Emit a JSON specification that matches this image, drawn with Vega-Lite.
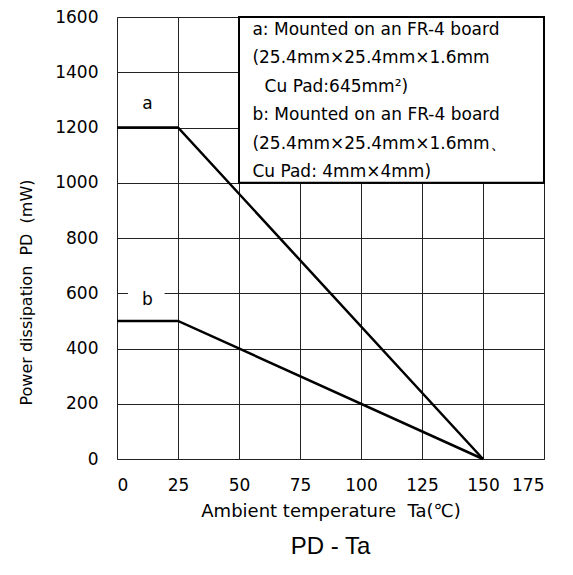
{
  "$schema": "https://vega.github.io/schema/vega-lite/v6.json",
  "width": 427,
  "height": 442,
  "autosize": "none",
  "padding": {"left": 117, "top": 17, "right": 29, "bottom": 116},
  "background": "white",
  "config": {
    "view": {"stroke": "#808080", "strokeWidth": 1},
    "font": "DejaVu Sans",
    "axis": {
      "grid": true,
      "gridColor": "#222222",
      "gridOpacity": 1,
      "gridWidth": 1,
      "ticks": false,
      "domain": false,
      "labelFont": "DejaVu Sans",
      "labelFontSize": 17,
      "labelColor": "#000000",
      "titleFont": "DejaVu Sans",
      "titleFontSize": 16,
      "titleFontWeight": "normal",
      "titleColor": "#000000"
    }
  },
  "title": {
    "text": "PD - Ta",
    "orient": "bottom",
    "font": "Liberation Sans",
    "fontSize": 24,
    "fontWeight": "normal",
    "color": "#000000",
    "offset": 15
  },
  "datasets": {
    "curves": [
      {"s": "a", "t": 0, "p": 1200},
      {"s": "a", "t": 25, "p": 1200},
      {"s": "a", "t": 150, "p": 0},
      {"s": "b", "t": 0, "p": 500},
      {"s": "b", "t": 25, "p": 500},
      {"s": "b", "t": 150, "p": 0}
    ],
    "labels": [
      {"s": "a", "t": 12.5, "p": 1285},
      {"s": "b", "t": 12.5, "p": 575}
    ],
    "box": [{"x1": 50, "x2": 175, "y1": 1000, "y2": 1600}],
    "gap": [{"x1": 4.5, "x2": 19.5, "y1": 560, "y2": 640}],
    "notes": [
      {"line": "a: Mounted on an FR-4 board", "t": 55.5, "p": 1553},
      {"line": "(25.4mm×25.4mm×1.6mm", "t": 55.5, "p": 1450},
      {"line": "Cu Pad:645mm²)", "t": 60.5, "p": 1347},
      {"line": "b: Mounted on an FR-4 board", "t": 55.5, "p": 1245},
      {"line": "(25.4mm×25.4mm×1.6mm、", "t": 55.5, "p": 1142},
      {"line": "Cu Pad: 4mm×4mm)", "t": 55.5, "p": 1039}
    ]
  },
  "layer": [
    {
      "data": {"name": "curves"},
      "mark": {"type": "line", "color": "#000000", "strokeWidth": 2.5},
      "encoding": {
        "x": {
          "field": "t", "type": "quantitative",
          "scale": {"domain": [0, 175], "nice": false, "zero": false},
          "axis": {"values": [0, 25, 50, 75, 100, 125, 150, 175], "format": "d", "labelPadding": 18, "title": "Ambient temperature\u00a0\u00a0Ta(℃)", "titleFontSize": 18, "titlePadding": 9}
        },
        "y": {
          "field": "p", "type": "quantitative",
          "scale": {"domain": [0, 1600], "nice": false},
          "axis": {"values": [0, 200, 400, 600, 800, 1000, 1200, 1400, 1600], "format": "d", "labelPadding": 19, "title": "Power dissipation\u00a0\u00a0PD\u00a0\u00a0(mW)", "titlePadding": 20, "titleY": 275}
        },
        "detail": {"field": "s"}
      }
    },
    {
      "data": {"name": "gap"},
      "mark": {"type": "rect", "fill": "white"},
      "encoding": {
        "x": {"field": "x1", "type": "quantitative"},
        "x2": {"field": "x2"},
        "y": {"field": "y1", "type": "quantitative"},
        "y2": {"field": "y2"}
      }
    },
    {
      "data": {"name": "box"},
      "mark": {"type": "rect", "fill": "white", "stroke": "#000000", "strokeWidth": 2},
      "encoding": {
        "x": {"field": "x1", "type": "quantitative"},
        "x2": {"field": "x2"},
        "y": {"field": "y1", "type": "quantitative"},
        "y2": {"field": "y2"}
      }
    },
    {
      "data": {"name": "labels"},
      "mark": {"type": "text", "fontSize": 17, "color": "#000000", "align": "center", "baseline": "middle"},
      "encoding": {
        "x": {"field": "t", "type": "quantitative"},
        "y": {"field": "p", "type": "quantitative"},
        "text": {"field": "s"}
      }
    },
    {
      "data": {"name": "notes"},
      "mark": {"type": "text", "fontSize": 17, "color": "#000000", "align": "left", "baseline": "middle"},
      "encoding": {
        "x": {"field": "t", "type": "quantitative"},
        "y": {"field": "p", "type": "quantitative"},
        "text": {"field": "line"}
      }
    }
  ]
}
